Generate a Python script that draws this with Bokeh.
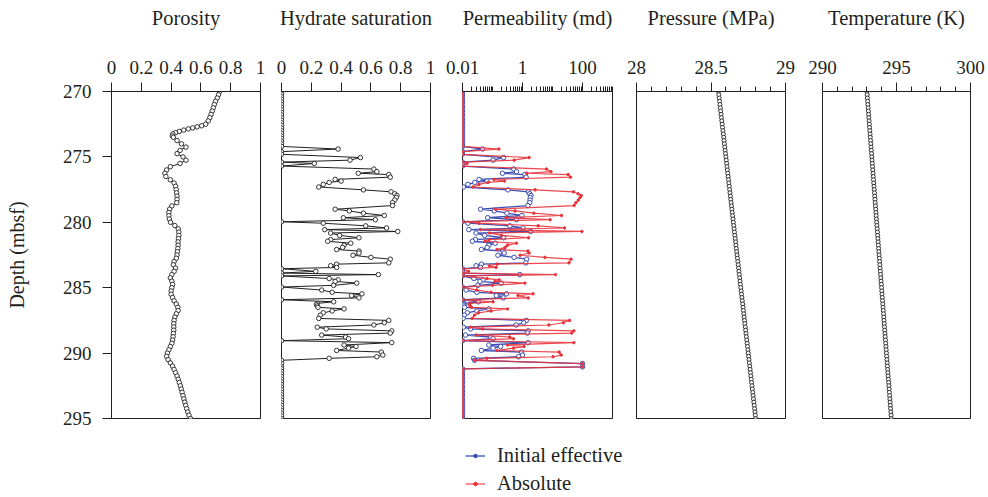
from bokeh.plotting import figure
from bokeh.layouts import row, column
from bokeh.models import Range1d, FixedTicker, CustomJSTickFormatter, Legend, LegendItem, Spacer
from bokeh.embed import file_html
from bokeh.resources import INLINE

FONT = "Liberation Serif"
TXT = "#231f20"
BLUE = "#3b4fb3"
RED = "#e8333b"

# ---------------- data ----------------
titles = ["Porosity", "Hydrate saturation", "Permeability (md)", "Pressure (MPa)", "Temperature (K)"]
legend_labels = ["Initial effective", "Absolute"]
depth_ticks = [270, 275, 280, 285, 290, 295]
unit_ticks = [0, 0.2, 0.4, 0.6, 0.8, 1]
perm_ticks = [0.01, 1, 100]
pressure_ticks = [28, 28.5, 29]
temperature_ticks = [290, 295, 300]

depth_por = [270.0, 270.25, 270.5, 270.75, 271.0, 271.25, 271.5, 271.75, 272.0, 272.25,
             272.5, 272.62, 272.7, 272.78, 272.86, 272.95, 273.05, 273.15, 273.25, 273.4,
             273.5, 273.75, 274.0, 274.25, 274.5, 274.75, 275.0, 275.25, 275.5, 275.75,
             276.0, 276.25, 276.5, 276.75, 277.0, 277.25, 277.5, 277.75, 278.0, 278.25,
             278.5, 278.75, 279.0, 279.25, 279.5, 279.75, 280.0, 280.25, 280.5, 280.75,
             281.0, 281.25, 281.5, 281.75, 282.0, 282.25, 282.5, 282.75, 283.0, 283.25,
             283.5, 283.75, 284.0, 284.25, 284.5, 284.75, 285.0, 285.25, 285.5, 285.75,
             286.0, 286.25, 286.5, 286.75, 287.0, 287.25, 287.5, 287.75, 288.0, 288.25,
             288.5, 288.75, 289.0, 289.25, 289.5, 289.75, 290.0, 290.25, 290.5, 290.75,
             291.0, 291.25, 291.5, 291.75, 292.0, 292.25, 292.5, 292.75, 293.0, 293.25,
             293.5, 293.75, 294.0, 294.25, 294.5, 294.75, 295.0]
porosity = [0.725, 0.718, 0.71, 0.698, 0.69, 0.683, 0.676, 0.668, 0.66, 0.649,
            0.632, 0.605, 0.575, 0.545, 0.515, 0.485, 0.455, 0.43, 0.412, 0.408,
            0.415, 0.44, 0.47, 0.50, 0.46, 0.44, 0.48, 0.50, 0.46, 0.395,
            0.37, 0.358, 0.365, 0.395, 0.42, 0.43, 0.434, 0.437, 0.44, 0.44,
            0.438, 0.405, 0.39, 0.385, 0.385, 0.388, 0.396, 0.425, 0.448, 0.452,
            0.452, 0.449, 0.447, 0.447, 0.445, 0.442, 0.44, 0.435, 0.42, 0.415,
            0.43, 0.42, 0.405, 0.395, 0.405, 0.41, 0.405, 0.40, 0.40, 0.41,
            0.42, 0.435, 0.445, 0.447, 0.435, 0.425, 0.42, 0.418, 0.418, 0.418,
            0.415, 0.413, 0.41, 0.405, 0.395, 0.385, 0.375, 0.37, 0.38, 0.395,
            0.41, 0.42, 0.43, 0.44, 0.448, 0.455, 0.462, 0.468, 0.474, 0.48,
            0.486, 0.492, 0.498, 0.505, 0.512, 0.52, 0.53]

# log depths (hydrate saturation and permeability)
depth_top = [270.0, 270.2, 270.4, 270.6, 270.8, 271.0, 271.2, 271.4, 271.6, 271.8, 272.0,
             272.2, 272.4, 272.6, 272.8, 273.0, 273.2, 273.4, 273.6, 273.8, 274.0, 274.2]
depth_mid = [274.4, 274.6, 274.8, 275.05, 275.25, 275.4, 275.5, 275.7, 275.93, 276.13,
             276.25, 276.35, 276.55, 276.72, 276.85, 276.95, 277.1, 277.3, 277.52, 277.67,
             277.82, 277.95, 278.1, 278.3, 278.5, 278.72, 279.0, 279.13, 279.3, 279.48,
             279.65, 279.8, 279.96, 280.07, 280.27, 280.43, 280.56, 280.7, 280.82, 281.0,
             281.18, 281.32, 281.45, 281.6, 281.75, 281.92, 282.08, 282.2, 282.35, 282.52,
             282.68, 282.82, 283.1, 283.2, 283.32, 283.45, 283.55, 283.75, 283.88, 284.0,
             284.1, 284.3, 284.4, 284.52, 284.65, 284.82, 284.95, 285.18, 285.35, 285.47,
             285.6, 285.78, 285.92, 286.08, 286.2, 286.3, 286.4, 286.5, 286.62, 286.78,
             286.92, 287.1, 287.35, 287.5, 287.68, 287.85, 288.02, 288.15, 288.3, 288.47,
             288.62, 288.77, 288.9, 289.05, 289.2, 289.38, 289.5, 289.62, 289.8, 289.92,
             290.15, 290.28, 290.4, 290.55, 290.8, 291.05]
depth_bottom = [291.2, 291.4, 291.6, 291.8, 292.0, 292.2, 292.4, 292.6, 292.8, 293.0,
                293.2, 293.4, 293.6, 293.8, 294.0, 294.2, 294.4, 294.6, 294.8, 295.0]

sh_mid = [0.38, 0, 0, 0.53, 0.46, 0, 0.22, 0, 0.62, 0.64,
          0.515, 0.72, 0.73, 0.36, 0.40, 0.32, 0.28, 0.25, 0.55, 0.735,
          0.76, 0.775, 0.77, 0.76, 0.745, 0.745, 0.36, 0.455, 0.55, 0.69,
          0.415, 0.63, 0, 0.28, 0.565, 0.705, 0.29, 0.78, 0.33, 0.39,
          0.52, 0.33, 0.31, 0.465, 0.42, 0.41, 0.37, 0.52, 0.52, 0.48,
          0.60, 0.73, 0.72, 0.37, 0.33, 0.37, 0, 0.23, 0, 0.65,
          0, 0.32, 0.38, 0.36, 0.505, 0.35, 0, 0.27, 0.34, 0.54,
          0.47, 0.52, 0, 0.35, 0.24, 0.235, 0.24, 0.245, 0.42, 0.34,
          0.28, 0.26, 0.25, 0.72, 0.69, 0.62, 0.24, 0.30, 0.74, 0.73,
          0.27, 0.43, 0.45, 0, 0.74, 0.42, 0.50, 0.45, 0.37, 0.67,
          0.68, 0.64, 0.32, 0, 0, 0]

# permeability read as log10(md)
abs_log_mid = [-0.79, -2, -2, 0.22, -0.28, -2, -1.85, -2, 0.80, 0.95,
               0.15, 1.52, 1.60, -0.95, -0.60, -1.15, -1.45, -1.65, 0.42, 1.70,
               1.85, 1.96, 1.92, 1.86, 1.78, 1.72, -0.90, -0.25, 0.38, 1.30,
               -0.55, 0.92, -2, -1.45, 0.52, 1.40, -1.40, 1.98, -1.10, -0.70,
               0.20, -1.12, -1.25, -0.20, -0.50, -0.58, -0.85, 0.18, 0.22, -0.08,
               0.75, 1.62, 1.55, -0.85, -1.10, -0.88, -2, -1.80, -2, 1.10,
               -2, -1.18, -0.78, -0.92, 0.08, -1.00, -2, -1.52, -1.05, 0.35,
               -0.15, 0.19, -2, -0.98, -1.75, -1.78, -1.74, -1.70, -0.50, -1.05,
               -1.47, -1.60, -1.68, 1.57, 1.36, 0.88, -1.74, -1.33, 1.71, 1.64,
               -1.54, -0.43, -0.30, -2, 1.71, -0.50, 0.05, -0.30, -0.85, 1.22,
               1.29, 1.02, -1.19, -1.6, 2.0, 2.0]
eff_log_mid = [-1.33, -2, -2, -0.63, -0.98, -2, -2.0, -2, -0.29, -0.20,
               -0.67, 0.08, 0.12, -1.45, -1.18, -1.59, -1.82, -1.97, -0.48, 0.20,
               0.24, 0.28, 0.26, 0.25, 0.24, 0.18, -1.40, -0.94, -0.52, -0.02,
               -1.16, -0.20, -2, -1.82, -0.42, 0.02, -1.79, 0.27, -1.55, -1.26,
               -0.63, -1.57, -1.67, -0.91, -1.12, -1.18, -1.37, -0.65, -0.61, -0.82,
               -0.28, 0.14, 0.11, -1.37, -1.55, -1.40, -2, -2.0, -2, -0.09,
               -2, -1.62, -1.32, -1.42, -0.71, -1.49, -2, -1.88, -1.52, -0.53,
               -0.87, -0.64, -2, -1.47, -1.95, -1.96, -1.95, -1.93, -1.12, -1.52,
               -1.84, -1.94, -1.98, 0.13, 0.04, -0.21, -1.97, -1.73, 0.19, 0.16,
               -1.90, -1.06, -0.98, -2, 0.19, -1.12, -0.73, -0.98, -1.37, -0.03,
               0.00, -0.13, -1.63, -1.6, 2.0, 2.0]

depth_log = depth_top + depth_mid + depth_bottom
hydrate_sat = [0.0] * len(depth_top) + sh_mid + [0.0] * len(depth_bottom)
perm_abs = [10 ** v for v in [-2.0] * len(depth_top) + abs_log_mid + [-2.0] * len(depth_bottom)]
perm_eff = [10 ** v for v in [-2.0] * len(depth_top) + eff_log_mid + [-2.0] * len(depth_bottom)]

depth_grid = [270.0, 270.25, 270.5, 270.75, 271.0, 271.25, 271.5, 271.75, 272.0, 272.25,
              272.5, 272.75, 273.0, 273.25, 273.5, 273.75, 274.0, 274.25, 274.5, 274.75,
              275.0, 275.25, 275.5, 275.75, 276.0, 276.25, 276.5, 276.75, 277.0, 277.25,
              277.5, 277.75, 278.0, 278.25, 278.5, 278.75, 279.0, 279.25, 279.5, 279.75,
              280.0, 280.25, 280.5, 280.75, 281.0, 281.25, 281.5, 281.75, 282.0, 282.25,
              282.5, 282.75, 283.0, 283.25, 283.5, 283.75, 284.0, 284.25, 284.5, 284.75,
              285.0, 285.25, 285.5, 285.75, 286.0, 286.25, 286.5, 286.75, 287.0, 287.25,
              287.5, 287.75, 288.0, 288.25, 288.5, 288.75, 289.0, 289.25, 289.5, 289.75,
              290.0, 290.25, 290.5, 290.75, 291.0, 291.25, 291.5, 291.75, 292.0, 292.25,
              292.5, 292.75, 293.0, 293.25, 293.5, 293.75, 294.0, 294.25, 294.5, 294.75,
              295.0]
pressure = [28.5500, 28.5525, 28.5550, 28.5575, 28.5600, 28.5625, 28.5650, 28.5675, 28.5700, 28.5725,
            28.5750, 28.5775, 28.5800, 28.5825, 28.5850, 28.5875, 28.5900, 28.5925, 28.5950, 28.5975,
            28.6000, 28.6025, 28.6050, 28.6075, 28.6100, 28.6125, 28.6150, 28.6175, 28.6200, 28.6225,
            28.6250, 28.6275, 28.6300, 28.6325, 28.6350, 28.6375, 28.6400, 28.6425, 28.6450, 28.6475,
            28.6500, 28.6525, 28.6550, 28.6575, 28.6600, 28.6625, 28.6650, 28.6675, 28.6700, 28.6725,
            28.6750, 28.6775, 28.6800, 28.6825, 28.6850, 28.6875, 28.6900, 28.6925, 28.6950, 28.6975,
            28.7000, 28.7025, 28.7050, 28.7075, 28.7100, 28.7125, 28.7150, 28.7175, 28.7200, 28.7225,
            28.7250, 28.7275, 28.7300, 28.7325, 28.7350, 28.7375, 28.7400, 28.7425, 28.7450, 28.7475,
            28.7500, 28.7525, 28.7550, 28.7575, 28.7600, 28.7625, 28.7650, 28.7675, 28.7700, 28.7725,
            28.7750, 28.7775, 28.7800, 28.7825, 28.7850, 28.7875, 28.7900, 28.7925, 28.7950, 28.7975,
            28.8000]
temperature = [293.000, 293.017, 293.033, 293.050, 293.066, 293.083, 293.099, 293.116, 293.132, 293.149,
               293.165, 293.182, 293.198, 293.215, 293.231, 293.248, 293.264, 293.281, 293.297, 293.314,
               293.330, 293.347, 293.363, 293.380, 293.396, 293.413, 293.429, 293.446, 293.462, 293.479,
               293.495, 293.512, 293.528, 293.545, 293.561, 293.578, 293.594, 293.611, 293.627, 293.644,
               293.660, 293.677, 293.693, 293.710, 293.726, 293.743, 293.759, 293.776, 293.792, 293.809,
               293.825, 293.842, 293.858, 293.875, 293.891, 293.908, 293.924, 293.941, 293.957, 293.974,
               293.990, 294.007, 294.023, 294.040, 294.056, 294.073, 294.089, 294.106, 294.122, 294.139,
               294.155, 294.172, 294.188, 294.205, 294.221, 294.238, 294.254, 294.271, 294.287, 294.304,
               294.320, 294.337, 294.353, 294.370, 294.386, 294.403, 294.419, 294.436, 294.452, 294.469,
               294.485, 294.502, 294.518, 294.535, 294.551, 294.568, 294.584, 294.601, 294.617, 294.634,
               294.650]

perm_minor = [m * d for d in [0.01, 0.1, 1, 10, 100] for m in range(2, 10)] + [0.1, 10, 1000]
pressure_minor = [28.1, 28.2, 28.3, 28.4, 28.6, 28.7, 28.8, 28.9]
temperature_minor = [291, 292, 293, 294, 296, 297, 298, 299]

# ---------------- figures ----------------
y_range = Range1d(295, 270)
FRAME_H = 327
TOP = 91
BOTTOM = 12
LEGEND_H = 67


def make_fig(x_range, left, right, fw, title, ticks, minor, x_type="linear", yaxis=False):
    p = figure(x_range=x_range, y_range=y_range, x_axis_type=x_type,
               x_axis_location="above", y_axis_location="left" if yaxis else None,
               frame_width=fw, frame_height=FRAME_H,
               min_border_left=left, min_border_right=right,
               min_border_top=TOP, min_border_bottom=BOTTOM,
               toolbar_location=None, tools="", output_backend="svg")
    p.xgrid.visible = False
    p.ygrid.visible = False
    p.outline_line_color = TXT
    p.outline_line_width = 1
    p.background_fill_color = "white"
    p.border_fill_color = "white"
    ax = p.xaxis[0]
    ax.ticker = FixedTicker(ticks=ticks, minor_ticks=minor)
    ax.formatter = CustomJSTickFormatter(code="return tick.toString();")
    ax.axis_label = title
    ax.axis_label_text_font = FONT
    ax.axis_label_text_font_size = "20.5px"
    ax.axis_label_text_font_style = "normal"
    ax.axis_label_text_color = TXT
    ax.axis_label_standoff = 29
    ax.major_label_text_font = FONT
    ax.major_label_text_font_size = "19px"
    ax.major_label_text_color = TXT
    ax.major_label_standoff = 9
    ax.major_tick_out = 9
    ax.major_tick_in = 0
    ax.minor_tick_out = 5
    ax.minor_tick_in = 0
    ax.axis_line_color = TXT
    ax.major_tick_line_color = TXT
    ax.minor_tick_line_color = TXT
    if yaxis:
        ya = p.yaxis[0]
        ya.ticker = FixedTicker(ticks=depth_ticks, minor_ticks=[])
        ya.formatter = CustomJSTickFormatter(code="return tick.toString();")
        ya.axis_label = "Depth (mbsf)"
        ya.axis_label_text_font = FONT
        ya.axis_label_text_font_size = "20px"
        ya.axis_label_text_font_style = "normal"
        ya.axis_label_text_color = TXT
        ya.axis_label_standoff = 32
        ya.major_label_text_font = FONT
        ya.major_label_text_font_size = "19px"
        ya.major_label_text_color = TXT
        ya.major_label_standoff = 11
        ya.major_tick_out = 9
        ya.major_tick_in = 0
        ya.axis_line_color = TXT
        ya.major_tick_line_color = TXT
    return p


p1 = make_fig(Range1d(0, 1), 111, 10, 149, titles[0], unit_ticks, [], yaxis=True)
p1.line(porosity, depth_por, line_color=TXT, line_width=1)
p1.scatter(porosity, depth_por, marker="circle", size=4.5, line_color=TXT, fill_color="white", line_width=0.9)

p2 = make_fig(Range1d(0, 1), 11, 14, 149, titles[1], unit_ticks, [])
p2.line(hydrate_sat, depth_log, line_color=TXT, line_width=1)
p2.scatter(hydrate_sat, depth_log, marker="circle", size=4.5, line_color=TXT, fill_color="white", line_width=0.9)

p3 = make_fig(Range1d(0.01, 1000), 18, 10, 150, titles[2], perm_ticks, perm_minor, x_type="log")
p3.line(perm_eff, depth_log, line_color=BLUE, line_width=1.3)
p3.scatter(perm_eff, depth_log, marker="circle", size=4.5, line_color=BLUE, fill_color="white", line_width=1)
p3.line(perm_abs, depth_log, line_color=RED, line_width=1.2, line_alpha=0.9)
p3.scatter(perm_abs, depth_log, marker="circle", size=2.5, line_color=RED, fill_color=RED)

p4 = make_fig(Range1d(28, 29), 14, 15, 149, titles[3], pressure_ticks, pressure_minor)
p4.line(pressure, depth_grid, line_color=TXT, line_width=1)
p4.scatter(pressure, depth_grid, marker="circle", size=4, line_color=TXT, fill_color="white", line_width=0.9)

p5 = make_fig(Range1d(290, 300), 22, 18, 148, titles[4], temperature_ticks, temperature_minor)
p5.line(temperature, depth_grid, line_color=TXT, line_width=1)
p5.scatter(temperature, depth_grid, marker="circle", size=4, line_color=TXT, fill_color="white", line_width=0.9)

# legend strip below the permeability panel: the same series, whose depths lie
# outside this strip's range, so only the legend keys show
pl = figure(width=300, height=LEGEND_H, x_range=Range1d(0, 1), y_range=Range1d(0, 1),
            x_axis_location=None, y_axis_location=None, min_border=0,
            toolbar_location=None, tools="", output_backend="svg")
pl.xgrid.visible = False
pl.ygrid.visible = False
pl.outline_line_color = None
pl.background_fill_color = "white"
pl.border_fill_color = "white"
kb_l = pl.line(perm_eff, depth_log, line_color=BLUE, line_width=1.3)
kb_s = pl.scatter(perm_eff, depth_log, marker="circle", size=4, line_color=BLUE, fill_color=BLUE)
kr_l = pl.line(perm_abs, depth_log, line_color=RED, line_width=1.2, line_alpha=0.9)
kr_s = pl.scatter(perm_abs, depth_log, marker="circle", size=2.5, line_color=RED, fill_color=RED)
legend = Legend(items=[LegendItem(label=legend_labels[0], renderers=[kb_l, kb_s]),
                       LegendItem(label=legend_labels[1], renderers=[kr_l, kr_s])],
                location=(3, 2), padding=0, margin=0, spacing=5,
                glyph_width=20, glyph_height=9, label_height=9, label_standoff=12,
                label_text_font=FONT, label_text_font_size="20.5px", label_text_color=TXT,
                border_line_color=None, background_fill_color=None)
pl.add_layout(legend)

layout = column(row(p1, p2, p3, p4, p5), row(Spacer(width=462, height=LEGEND_H), pl))
open("out.html", "w").write(file_html(layout, INLINE))
